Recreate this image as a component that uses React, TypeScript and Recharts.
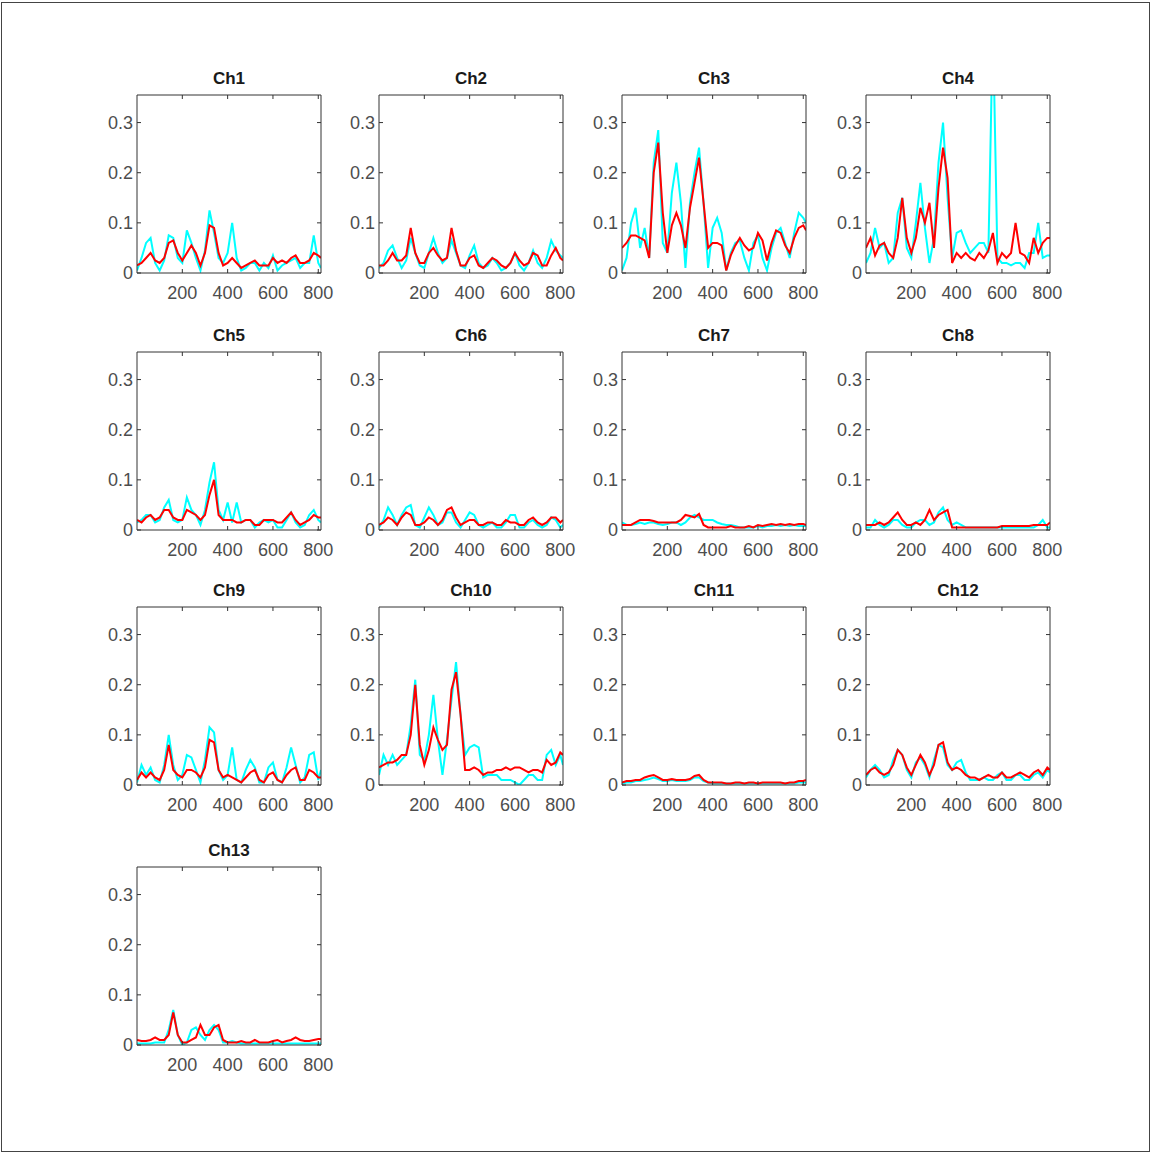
import { LineChart, Line, XAxis, YAxis } from "recharts";

// sample positions (x) shared by every channel
const xs = [0, 20, 40, 60, 80, 100, 120, 140, 160, 180, 200, 220, 240, 260, 280, 300, 320, 340, 360, 380, 400, 420, 440, 460, 480, 500, 520, 540, 560, 580, 600, 620, 640, 660, 680, 700, 720, 740, 760, 780, 800, 812];

const ch1Cyan = [.005, .03, .06, .07, .02, .005, .025, .075, .07, .03, .02, .085, .06, .03, .005, .045, .125, .08, .03, .02, .04, .1, .03, .005, .01, .02, .02, .005, .02, .01, .035, .005, .015, .02, .025, .03, .01, .02, .02, .075, .02, .01];
const ch1Red = [.015, .02, .03, .04, .025, .02, .03, .06, .065, .04, .025, .04, .055, .04, .015, .04, .095, .09, .04, .015, .02, .03, .02, .01, .015, .02, .025, .015, .015, .015, .03, .02, .025, .02, .03, .035, .02, .02, .025, .04, .035, .03];

const ch2Cyan = [.01, .02, .045, .055, .03, .01, .025, .07, .04, .015, .01, .04, .07, .04, .02, .03, .065, .04, .015, .01, .035, .055, .02, .01, .015, .03, .02, .005, .01, .02, .04, .015, .005, .02, .045, .02, .01, .03, .065, .045, .035, .03];
const ch2Red = [.015, .015, .025, .04, .025, .025, .035, .09, .04, .02, .02, .04, .05, .035, .025, .03, .09, .045, .015, .015, .03, .035, .015, .01, .02, .03, .025, .015, .01, .02, .04, .025, .015, .02, .04, .035, .015, .015, .035, .05, .03, .025];

const ch3Cyan = [.005, .03, .1, .13, .05, .09, .03, .22, .285, .06, .04, .16, .22, .14, .01, .14, .2, .25, .14, .01, .09, .11, .08, .005, .04, .06, .065, .03, .005, .06, .075, .03, .005, .05, .08, .09, .06, .03, .08, .12, .11, .1];
const ch3Red = [.05, .06, .075, .075, .07, .065, .03, .2, .26, .12, .04, .095, .12, .095, .05, .13, .18, .23, .14, .05, .06, .06, .055, .005, .035, .055, .07, .055, .045, .05, .08, .065, .025, .06, .085, .08, .055, .04, .07, .09, .095, .085];

const ch4Cyan = [.02, .04, .09, .05, .06, .02, .03, .12, .15, .05, .03, .1, .18, .09, .02, .07, .22, .3, .15, .03, .08, .085, .06, .04, .05, .06, .06, .04, .5, .03, .02, .02, .015, .02, .02, .01, .04, .04, .1, .03, .035, .035];
const ch4Red = [.05, .07, .035, .055, .06, .04, .03, .07, .15, .07, .04, .07, .13, .1, .14, .05, .17, .25, .19, .02, .04, .03, .04, .03, .025, .04, .03, .045, .08, .02, .04, .03, .04, .1, .04, .035, .02, .07, .04, .06, .07, .07];

const ch5Cyan = [.015, .02, .03, .03, .015, .02, .045, .06, .02, .015, .02, .065, .04, .03, .01, .04, .095, .135, .04, .02, .055, .015, .055, .015, .02, .02, .005, .015, .02, .015, .02, .005, .005, .02, .035, .015, .005, .01, .03, .04, .02, .015];
const ch5Red = [.02, .015, .025, .03, .02, .025, .04, .04, .025, .02, .02, .04, .035, .03, .02, .03, .07, .1, .03, .02, .02, .02, .015, .015, .02, .02, .01, .01, .02, .02, .02, .015, .015, .025, .035, .02, .01, .015, .02, .03, .025, .025];

const ch6Cyan = [.005, .02, .045, .03, .01, .03, .045, .05, .01, .005, .025, .045, .03, .01, .015, .035, .035, .015, .005, .02, .035, .03, .01, .005, .01, .015, .005, .005, .015, .03, .03, .005, .005, .015, .02, .01, .005, .01, .025, .02, .005, .01];
const ch6Red = [.01, .015, .025, .02, .01, .025, .035, .03, .01, .01, .015, .025, .02, .01, .02, .04, .045, .025, .01, .015, .02, .02, .01, .01, .015, .015, .01, .01, .02, .015, .015, .01, .01, .02, .025, .015, .01, .015, .025, .025, .015, .02];

const ch7Cyan = [.015, .01, .01, .012, .015, .012, .015, .015, .012, .01, .012, .015, .015, .01, .015, .025, .03, .025, .02, .02, .02, .015, .012, .01, .01, .008, .005, .005, .005, .005, .008, .005, .008, .008, .01, .008, .01, .008, .01, .008, .008, .008];
const ch7Red = [.01, .01, .01, .015, .02, .02, .02, .018, .015, .015, .015, .015, .015, .02, .03, .028, .025, .032, .01, .005, .005, .005, .005, .005, .008, .005, .005, .005, .008, .005, .01, .008, .01, .012, .01, .012, .01, .012, .01, .012, .012, .01];

const ch8Cyan = [.005, .005, .02, .01, .005, .01, .02, .02, .01, .005, .005, .015, .02, .02, .01, .015, .035, .045, .02, .01, .015, .01, .005, .005, .005, .005, .005, .005, .005, .005, .005, .005, .005, .005, .005, .005, .005, .005, .01, .02, .005, .005];
const ch8Red = [.01, .01, .01, .015, .01, .015, .025, .035, .02, .01, .01, .015, .01, .02, .04, .02, .03, .035, .04, .005, .005, .005, .005, .005, .005, .005, .005, .005, .005, .005, .008, .008, .008, .008, .008, .008, .008, .01, .01, .01, .01, .015];

const ch9Cyan = [.005, .04, .02, .035, .01, .005, .04, .1, .04, .01, .02, .06, .055, .03, .005, .05, .115, .105, .03, .01, .02, .075, .01, .005, .03, .05, .035, .005, .005, .035, .045, .01, .005, .035, .075, .04, .005, .015, .06, .065, .01, .03];
const ch9Red = [.01, .025, .015, .025, .015, .01, .03, .08, .03, .02, .015, .03, .03, .025, .015, .035, .09, .085, .03, .015, .02, .015, .01, .005, .015, .025, .03, .01, .005, .02, .025, .01, .005, .02, .03, .035, .01, .01, .03, .025, .015, .015];

const ch10Cyan = [.02, .06, .04, .06, .04, .05, .06, .12, .21, .06, .05, .1, .18, .09, .02, .09, .17, .245, .14, .06, .075, .08, .075, .015, .02, .02, .02, .01, .01, .01, .005, 0, .01, .02, .02, .01, .01, .06, .07, .04, .06, .04];
const ch10Red = [.035, .04, .045, .045, .05, .06, .06, .1, .2, .08, .04, .07, .115, .09, .07, .08, .19, .225, .14, .03, .03, .035, .03, .02, .025, .025, .03, .03, .035, .03, .035, .035, .03, .025, .03, .03, .025, .05, .04, .045, .065, .06];

const ch11Cyan = [.003, .005, .005, .008, .008, .01, .012, .015, .012, .008, .008, .01, .008, .008, .008, .01, .015, .015, .008, .005, .003, .003, .003, .003, .003, .003, .003, .003, .003, .003, .003, .003, .003, .003, .003, .003, .003, .003, .003, .005, .005, .005];
const ch11Red = [.005, .008, .008, .01, .01, .015, .018, .02, .015, .01, .01, .012, .01, .01, .01, .012, .018, .02, .01, .005, .005, .005, .005, .003, .003, .005, .005, .003, .005, .005, .003, .005, .005, .005, .005, .005, .003, .005, .005, .008, .008, .01];

const ch12Cyan = [.015, .03, .04, .03, .015, .02, .05, .07, .06, .03, .015, .045, .055, .04, .015, .05, .08, .075, .04, .03, .045, .05, .025, .01, .01, .01, .015, .01, .01, .02, .025, .01, .01, .02, .02, .01, .01, .02, .025, .015, .03, .025];
const ch12Red = [.02, .03, .035, .025, .02, .025, .04, .07, .06, .035, .02, .04, .06, .045, .02, .04, .08, .085, .045, .03, .035, .03, .02, .015, .015, .01, .015, .02, .015, .015, .025, .015, .015, .02, .025, .02, .015, .025, .03, .02, .035, .03];

const ch13Cyan = [.003, .003, .003, .003, .005, .005, .005, .03, .07, .02, 0, .005, .03, .035, .02, .01, .03, .04, .03, .005, .005, .008, .005, .003, .003, .003, .003, .003, .003, .003, .003, .003, .003, .003, .003, .003, .003, .003, .003, .003, .003, .003];
const ch13Red = [.01, .008, .008, .01, .015, .01, .01, .02, .065, .02, .005, .005, .01, .015, .04, .02, .02, .035, .04, .01, .005, .005, .005, .008, .005, .005, .01, .005, .005, .005, .008, .01, .005, .008, .01, .015, .01, .008, .008, .01, .012, .012];

const titles = ["Ch1", "Ch2", "Ch3", "Ch4", "Ch5", "Ch6", "Ch7", "Ch8", "Ch9", "Ch10", "Ch11", "Ch12", "Ch13"];
const cyanSeries = [ch1Cyan, ch2Cyan, ch3Cyan, ch4Cyan, ch5Cyan, ch6Cyan, ch7Cyan, ch8Cyan, ch9Cyan, ch10Cyan, ch11Cyan, ch12Cyan, ch13Cyan];
const redSeries = [ch1Red, ch2Red, ch3Red, ch4Red, ch5Red, ch6Red, ch7Red, ch8Red, ch9Red, ch10Red, ch11Red, ch12Red, ch13Red];

const xTicks = [200, 400, 600, 800];
const yTicks = [0, 0.1, 0.2, 0.3];

// plot box positions on the page
const colLeft = [137, 379, 622, 866];
const rowTop = [95, 352, 607, 867];
const plotW = 184;
const plotH = 178;
const padL = 40;
const padT = 30;
const padR = 15;
const padB = 30;

const tickFont = { fill: "#4d4d4d", fontSize: 18, fontFamily: "'Liberation Sans', Arial, sans-serif" };
const noLabel = () => <g />;

function Panel({ title, cyan, red, left, top }: { title: string; cyan: number[]; red: number[]; left: number; top: number }) {
  const data = xs.map((x, i) => ({ x, cyan: cyan[i], red: red[i] }));
  const w = padL + plotW + padR;
  const h = padT + plotH + padB;
  return (
    <div style={{ position: "absolute", left: left - padL, top: top - padT, width: w, height: h }}>
      <div
        style={{
          position: "absolute",
          left: padL,
          width: plotW,
          top: 4,
          textAlign: "center",
          font: "bold 17px 'Liberation Sans', Arial, sans-serif",
          color: "#1a1a1a",
          lineHeight: "20px",
        }}
      >
        {title}
      </div>
      <LineChart width={w} height={h} data={data} margin={{ top: padT - 1, right: padR - 1, bottom: 0, left: 0 }}>
        <XAxis
          dataKey="x"
          type="number"
          domain={[0, 812]}
          ticks={xTicks}
          interval={0}
          allowDataOverflow
          height={padB}
          tickSize={-4}
          tickMargin={17}
          stroke="#333"
          tick={tickFont}
        />
        <XAxis
          xAxisId="top"
          orientation="top"
          dataKey="x"
          type="number"
          domain={[0, 812]}
          ticks={xTicks}
          interval={0}
          allowDataOverflow
          height={1}
          tickSize={-4}
          stroke="#333"
          tick={noLabel}
        />
        <YAxis
          domain={[0, 0.355]}
          ticks={yTicks}
          interval={0}
          allowDataOverflow
          width={padL}
          tickSize={-4}
          tickMargin={8}
          stroke="#333"
          tick={tickFont}
        />
        <YAxis
          yAxisId="right"
          orientation="right"
          domain={[0, 0.355]}
          ticks={yTicks}
          interval={0}
          allowDataOverflow
          width={1}
          tickSize={-4}
          stroke="#333"
          tick={noLabel}
        />
        <Line type="linear" dataKey="cyan" stroke="#00ffff" strokeWidth={2} dot={false} isAnimationActive={false} />
        <Line type="linear" dataKey="red" stroke="#ff0000" strokeWidth={2} dot={false} isAnimationActive={false} />
      </LineChart>
    </div>
  );
}

export default function App() {
  return (
    <div style={{ position: "absolute", left: 0, top: 0, width: 1151, height: 1154, background: "#fff" }}>
      <div
        style={{
          position: "absolute",
          left: 1,
          top: 2,
          width: 1147,
          height: 1148,
          border: "1px solid #444",
        }}
      />
      {titles.map((t, i) => (
        <Panel
          key={t}
          title={t}
          cyan={cyanSeries[i]}
          red={redSeries[i]}
          left={colLeft[i % 4]}
          top={rowTop[Math.floor(i / 4)]}
        />
      ))}
    </div>
  );
}
